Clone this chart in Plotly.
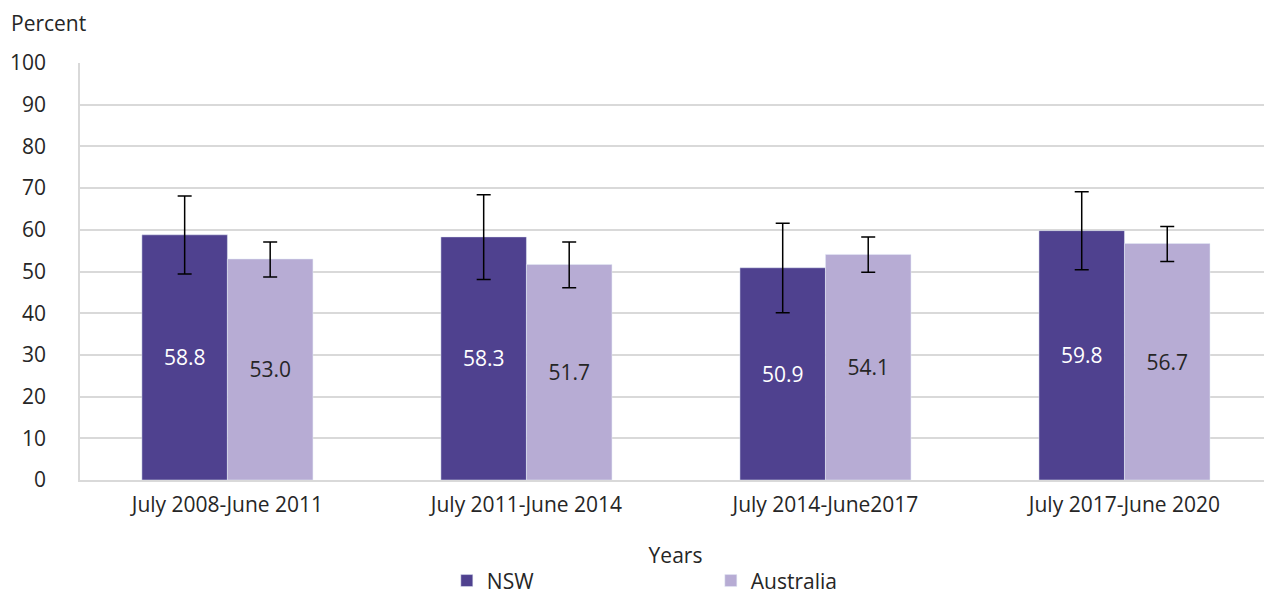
import plotly.graph_objects as go

categories = ["July 2008-June 2011", "July 2011-June 2014", "July 2014-June2017", "July 2017-June 2020"]
nsw = [58.8, 58.3, 50.9, 59.8]
nsw_low = [49.4, 48.1, 40.1, 50.4]
nsw_high = [68.1, 68.4, 61.6, 69.1]
aus = [53.0, 51.7, 54.1, 56.7]
aus_low = [48.7, 46.1, 49.8, 52.4]
aus_high = [57.1, 57.1, 58.3, 60.8]

FONT = "Open Sans"
TXT = "#262626"
FS = 21

def err(vals, lo, hi):
    return dict(type="data", symmetric=False,
                array=[h - v for v, h in zip(vals, hi)],
                arrayminus=[v - l for v, l in zip(vals, lo)],
                color="#000000", thickness=1.5, width=7)

fig = go.Figure()
fig.add_trace(go.Bar(
    name="NSW", x=categories, y=nsw, marker_color="#4F418F",
    text=[f"{v:.1f}" for v in nsw], textposition="inside", insidetextanchor="middle",
    textfont=dict(color="white", size=FS, family=FONT), textangle=0,
    error_y=err(nsw, nsw_low, nsw_high),
))
fig.add_trace(go.Bar(
    name="Australia", x=categories, y=aus, marker_color="#B7ACD4",
    text=[f"{v:.1f}" for v in aus], textposition="inside", insidetextanchor="middle",
    textfont=dict(color=TXT, size=FS, family=FONT), textangle=0,
    error_y=err(aus, aus_low, aus_high),
))

fig.update_layout(
    width=1264, height=586,
    margin=dict(l=72, r=1, t=55, b=114, autoexpand=False),
    paper_bgcolor="white", plot_bgcolor="white",
    font=dict(family=FONT, size=FS, color=TXT),
    barmode="group", bargap=0.428, bargroupgap=0,
    showlegend=True,
    legend=dict(orientation="h", x=0.308, xanchor="left", y=-0.242, yanchor="middle",
                font=dict(size=FS, color=TXT), entrywidth=219, itemwidth=30,
                traceorder="normal"),
    annotations=[dict(text="Percent", x=-0.0595, y=1.097, xref="paper", yref="paper",
                      xanchor="left", yanchor="middle", showarrow=False,
                      font=dict(size=FS, color=TXT))],
)
fig.update_yaxes(range=[0, 100], dtick=10, showgrid=True, gridcolor="#D9D9D9", gridwidth=1.5,
                 showline=True, linecolor="#D9D9D9", linewidth=1.5, mirror=True,
                 ticks="", ticklabelstandoff=28, zeroline=False, automargin=False,
                 tickfont=dict(size=FS, color=TXT))
fig.update_xaxes(showline=True, linecolor="#D9D9D9", linewidth=1.5, ticks="", automargin=False,
                 range=[-0.493, 3.49],
                 title=dict(text="Years", standoff=31, font=dict(size=FS, color=TXT)),
                 tickfont=dict(size=FS, color=TXT), ticklabelstandoff=5)

fig.write_html("out.html")
